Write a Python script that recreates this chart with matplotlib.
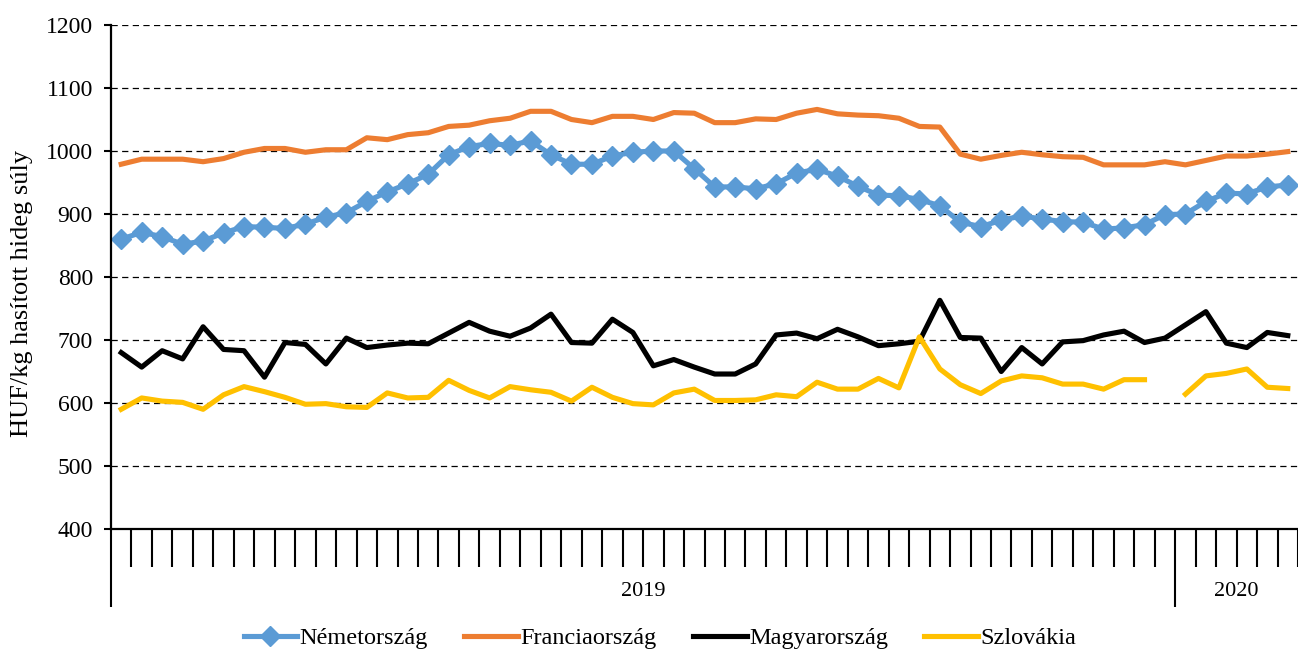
import matplotlib
matplotlib.use("Agg")
from matplotlib import pyplot as plt
import numpy as np

plt.rcParams['font.family'] = ['Liberation Serif', 'DejaVu Serif']

# heti adatok: 2019 (52 het) + 2020 (6 het)
weeks_2019 = list(range(1, 53))
weeks_2020 = list(range(1, 7))
years = ['2019', '2020']

nemetorszag = [860, 871, 864, 852, 857, 870, 880, 879, 877, 884,
               895, 902, 920, 935, 948, 963, 994, 1007, 1012, 1009,
               1016, 994, 979, 979, 992, 998, 1000, 1000, 972, 943,
               943, 940, 948, 965, 971, 960, 944, 930, 929, 923,
               913, 887, 880, 890, 897, 892, 888, 887, 876, 878,
               883, 899, 900, 920, 933, 932, 943, 946]
franciaorszag = [979, 987, 987, 987, 983, 988, 998, 1004, 1004, 998,
                 1002, 1002, 1021, 1018, 1026, 1029, 1039, 1041, 1048, 1052,
                 1063, 1063, 1050, 1045, 1055, 1055, 1050, 1061, 1060, 1045,
                 1045, 1051, 1050, 1060, 1066, 1059, 1057, 1056, 1052, 1039,
                 1038, 995, 987, 993, 998, 994, 991, 990, 978, 978,
                 978, 983, 978, 985, 992, 992, 995, 999]
magyarorszag = [680, 657, 683, 670, 721, 685, 683, 641, 696, 693,
                662, 703, 688, 692, 695, 694, 711, 728, 714, 706,
                719, 741, 696, 695, 733, 712, 659, 669, 657, 646,
                646, 662, 708, 711, 702, 717, 705, 691, 694, 698,
                763, 704, 703, 650, 688, 662, 697, 699, 708, 714,
                696, 703, 724, 745, 695, 688, 712, 707]
szlovakia = [590, 608, 603, 601, 590, 613, 626, 618, 609, 598,
             599, 594, 593, 616, 608, 609, 636, 620, 608, 626,
             621, 617, 603, 625, 609, 599, 597, 616, 622, 604,
             604, 605, 613, 610, 633, 622, 622, 639, 624, 705,
             654, 629, 615, 635, 643, 640, 630, 630, 622, 637,
             637, np.nan, 614, 643, 647, 654, 625, 623]

n = len(weeks_2019) + len(weeks_2020)
x = np.arange(n)

fig = plt.figure(figsize=(12.98, 6.51), dpi=100)
ax = fig.add_axes([111 / 1298, 1 - 529 / 651, 1 - 111 / 1298, (529 - 25) / 651])

ax.plot(x, nemetorszag, color='#5B9BD5', lw=3.7, marker='D', markersize=10.5,
        markeredgecolor='#5B9BD5', label='Németország')
ax.plot(x, franciaorszag, color='#ED7D31', lw=3.7, label='Franciaország')
ax.plot(x, magyarorszag, color='black', lw=3.7, label='Magyarország')
ax.plot(x, szlovakia, color='#FFC000', lw=3.7, label='Szlovákia')

ax.set_ylim(400, 1200)
ax.set_yticks(np.arange(400, 1201, 100))
ax.set_xlim(-0.5, 57.1)

ax.yaxis.grid(True, linestyle=(0, (5, 3.5)), color='black', lw=0.9)
ax.set_axisbelow(True)

for s in ['top', 'right']:
    ax.spines[s].set_visible(False)
for s in ['left', 'bottom']:
    ax.spines[s].set_linewidth(1.6)

# kategoria hatarok: rovid tickek, evhatarok: hosszu tickek
n19 = len(weeks_2019)
ax.set_xticks([-0.5, n19 - 0.5])
ax.set_xticklabels([])
minor = [b for b in np.arange(0.5, n) if b != n19 - 0.5]
ax.set_xticks(minor, minor=True)
ax.tick_params(axis='x', which='major', length=56, width=1.5, direction='out')
ax.tick_params(axis='x', which='minor', length=27.5, width=1.5, direction='out')
ax.tick_params(axis='y', length=5, width=1.5, pad=8, labelsize=17)

year_pos = [(n19 - 1) / 2, n19 + (len(weeks_2020) - 1) / 2]
for yr, px in zip(years, year_pos):
    ax.text(px, -0.125, yr, transform=ax.get_xaxis_transform(),
            ha='center', va='center', fontsize=16)

ax.set_ylabel('HUF/kg hasított hideg súly', fontsize=19)
ax.yaxis.set_label_coords(-0.066, 0.468)

fig.legend(loc='center', bbox_to_anchor=(660 / 1298, 1 - 638 / 651), ncol=4,
           frameon=False, fontsize=17.5, handlelength=2.2, handletextpad=0.1,
           columnspacing=1.5)

fig.savefig('out.png', dpi=100)
